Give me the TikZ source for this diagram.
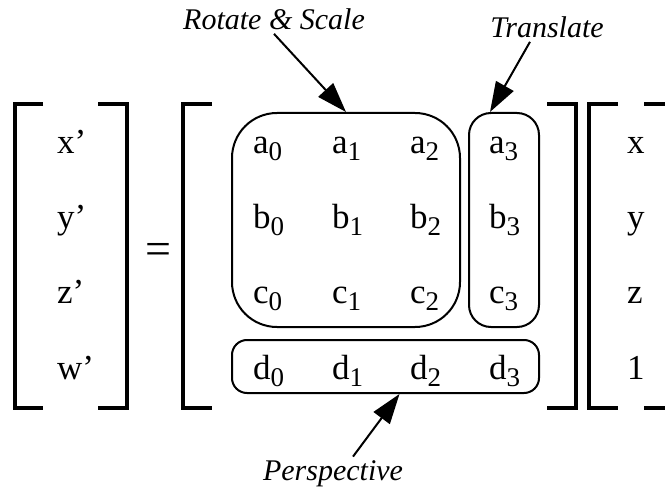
\documentclass[tikz,border=0pt]{standalone}
\usepackage{fontspec}
\setmainfont{Liberation Serif}
\usetikzlibrary{arrows.meta}

\newcommand{\ix}[1]{\raisebox{-7pt}{\fontsize{27pt}{27pt}\selectfont #1}}

\tikzset{
  entry/.style={anchor=base west, inner sep=0pt, font=\fontsize{35pt}{35pt}\selectfont},
  tag/.style={anchor=base, font=\fontsize{30pt}{30pt}\selectfont\itshape},
  pointer/.style={-{Triangle[length=30pt,width=20pt]}, line width=2pt},
  brk/.style={line width=4.5pt},
  grp/.style={draw, line width=2pt, inner sep=0pt}
}

\begin{document}
\begin{tikzpicture}[x=1pt,y=-1pt] % transform
		\begin{scope}
			\clip (0,0) rectangle (665,492);

			% brackets
			\draw[brk] (43,104) -- (15,104) -- (15,408) -- (43,408);
			\draw[brk] (98,104) -- (127,104) -- (127,408) -- (98,408);
			\draw[brk] (212,104) -- (183,104) -- (183,408) -- (212,408);
			\draw[brk] (547,104) -- (576,104) -- (576,408) -- (547,408);
			\draw[brk] (618,104) -- (589,104) -- (589,408) -- (618,408);
			\draw[brk] (644,104) -- (673,104) -- (673,408) -- (644,408);

			\node[anchor=base, inner sep=0pt, font=\fontsize{46pt}{46pt}\selectfont] (eq) at (158,265) {=};

			\foreach \v/\y in {x/154,y/229,z/304,w/379}
				\node[entry] (\v p) at (57,\y) {\v'};
			\foreach \v/\y in {x/154,y/229,z/304,1/379}
				\node[entry] (\v q) at (627,\y) {\v};
			\foreach \r/\y in {a/154,b/229,c/304,d/379}
				\foreach \c/\x in {0/253,1/332,2/410,3/489}
					\node[entry] (\r\c) at (\x,\y) {\r\ix{\c}};

			% groups
			\node[grp, rounded corners=45pt, minimum width=228pt, minimum height=214pt] (rsBox) at (346,220) {};
			\node[grp, rounded corners=22pt, minimum width=70pt, minimum height=214pt] (trBox) at (504,220) {};
			\node[grp, rounded corners=15pt, minimum width=307pt, minimum height=53pt] (pBox) at (385.5,366.5) {};

			\node[tag] (rsLab) at (274,30) {Rotate \& Scale};
			\node[tag] (trLab) at (547,38) {Translate};
			\node[tag] (pLab) at (333,480) {Perspective};

			\draw[pointer] (rsLab.south) -- (rsBox.north);
			\draw[pointer] ([xshift=-17pt]trLab.south) -- ([xshift=-14pt]trBox.north);
			\draw[pointer] ([xshift=20pt]pLab.north) -- ([xshift=14pt]pBox.south);
		\end{scope}
\end{tikzpicture}
\end{document}
